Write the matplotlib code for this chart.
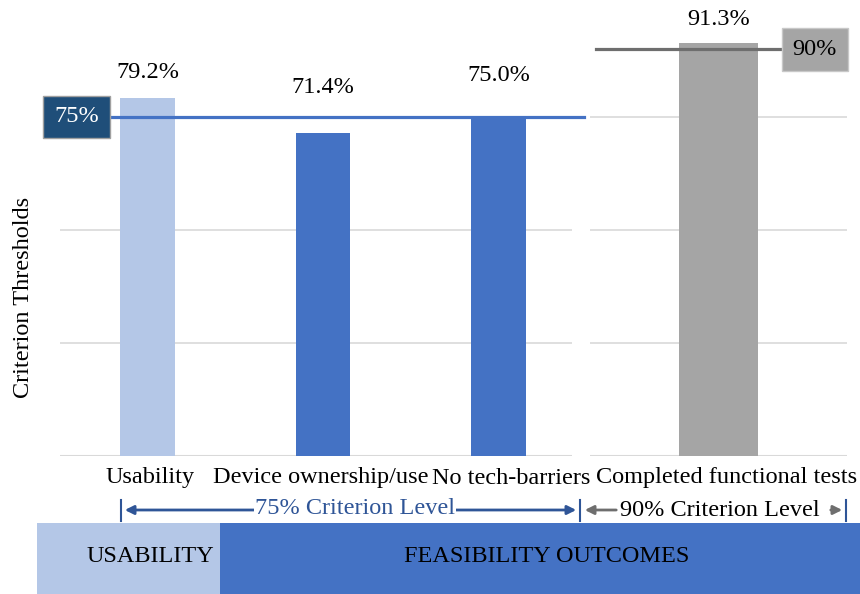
import matplotlib.pyplot as plt
from matplotlib.patches import Rectangle, FancyArrowPatch
from matplotlib.transforms import offset_copy

plt.rcParams["font.family"] = ["Liberation Serif", "DejaVu Serif"]

# data
left_labels = ["Usability", "Device ownership/use", "No tech-barriers"]
left_values = [79.2, 71.4, 75.0]
right_labels = ["Completed functional tests"]
right_values = [91.3]
threshold_left = 75
threshold_right = 90
band_labels = ["USABILITY", "FEASIBILITY OUTCOMES"]
level_labels = ["75% Criterion Level", "90% Criterion Level"]

LIGHT = "#B4C7E7"
BLUE = "#4472C4"
DARK = "#1F4E79"
GRAY = "#A5A5A5"
ARROW_BLUE = "#2F5597"
GRID = "#D9D9D9"
FS = 17.5

W, H = 860, 594
fig = plt.figure(figsize=(W / 100, H / 100), dpi=100)


def box(x0, y0, x1, y1):
    # pixel box (top-left origin) -> figure fraction rect
    return [x0 / W, 1 - y1 / H, (x1 - x0) / W, (y1 - y0) / H]


def fx(x):
    return x / W


def fy(y):
    return 1 - y / H


ax = fig.add_axes(box(60, 4, 572, 456))
ax2 = fig.add_axes(box(590, 4, 847, 456))

for a in (ax, ax2):
    a.set_ylim(0, 100)
    a.set_yticks([25, 50, 75])
    a.yaxis.grid(True, color=GRID, lw=1.2)
    a.set_axisbelow(True)
    for s in a.spines.values():
        s.set_visible(False)
    a.axhline(0, color=GRID, lw=1.5, zorder=1)
    a.tick_params(axis="y", length=0, labelleft=False)
    a.set_xticks([])


def cat_labels(a, xs, labels, shifts):
    # category names under the bars, nudged like the original
    for x, lab, dx in zip(xs, labels, shifts):
        tr = offset_copy(a.get_xaxis_transform(), fig=fig, x=dx, y=-22, units="dots")
        a.text(x, 0, lab, transform=tr, ha="center", va="center", fontsize=FS)


# left panel
xl = list(range(len(left_values)))
bars = ax.bar(xl, left_values, width=0.31, color=[LIGHT, BLUE, BLUE], zorder=2)
ax.set_xlim(-0.5, 2.42)
cat_labels(ax, xl, left_labels, [2, -2, 13])
label_offset_px = [26, 46, 41]
for r, v, off in zip(bars, left_values, label_offset_px):
    ax.annotate(f"{v:.1f}%", (r.get_x() + r.get_width() / 2, v),
                xytext=(0, off), textcoords="offset pixels",
                ha="center", va="center", fontsize=FS)

ax.plot([-0.22, 2.49], [threshold_left] * 2, color=BLUE, lw=2.3,
        clip_on=False, zorder=3)
ax.text(-0.405, threshold_left, f"{threshold_left}%", ha="center", va="center",
        fontsize=FS, color="white", zorder=5,
        bbox=dict(boxstyle="square,pad=0.45", fc=DARK, ec="#A0A0A0", lw=1))
ax.set_ylabel("Criterion Thresholds", fontsize=FS)
ax.yaxis.set_label_coords(-0.05, 0.35)

# right panel
bars2 = ax2.bar([0], right_values, width=0.31, color=GRAY, zorder=2)
ax2.set_xlim(-0.5, 0.5)
cat_labels(ax2, [0], right_labels, [8])
for r, v in zip(bars2, right_values):
    ax2.annotate(f"{v:.1f}%", (r.get_x() + r.get_width() / 2, v),
                 xytext=(0, 24), textcoords="offset pixels",
                 ha="center", va="center", fontsize=FS)
ax2.plot([-0.475, 0.245], [threshold_right] * 2, color="#6E6E6E", lw=2.3,
         zorder=3, clip_on=False)
ax2.text(0.375, threshold_right, f"{threshold_right}%", ha="center", va="center",
         fontsize=FS, color="black", zorder=5,
         bbox=dict(boxstyle="square,pad=0.45", fc=GRAY, ec="#C8C8C8", lw=1))

# criterion level arrows
ya = 510
for x in (121, 580, 846):
    fig.add_artist(plt.Line2D([fx(x)] * 2, [fy(500), fy(521)], color=ARROW_BLUE, lw=1.5))


def arrow(x0, x1, style, color):
    fig.patches.append(FancyArrowPatch(
        (fx(x0), fy(ya)), (fx(x1), fy(ya)), arrowstyle=style, mutation_scale=13,
        color=color, lw=2, transform=fig.transFigure, figure=fig))


arrow(122, 579, "<|-|>", ARROW_BLUE)
fig.text(fx(355), fy(ya - 2), level_labels[0], ha="center", va="center",
         fontsize=FS, color=ARROW_BLUE,
         bbox=dict(boxstyle="square,pad=0.05", fc="white", ec="none"))
arrow(619, 582, "-|>", "#6E6E6E")
fig.text(fx(620), fy(ya + 1), level_labels[1], ha="left", va="center",
         fontsize=FS, color="black")
arrow(828, 845, "-|>", "#6E6E6E")

# bottom band
band_centers = [150, 547]
for (x0, x1), c, lab, xc in zip([(37, 220), (220, 860)], [LIGHT, BLUE],
                                band_labels, band_centers):
    fig.patches.append(Rectangle((fx(x0), 0), fx(x1 - x0), (H - 523) / H,
                                 facecolor=c, edgecolor="none",
                                 transform=fig.transFigure, figure=fig))
    fig.text(fx(xc), fy(556), lab, ha="center", va="center", fontsize=FS)

fig.savefig("out.png", dpi=100)
